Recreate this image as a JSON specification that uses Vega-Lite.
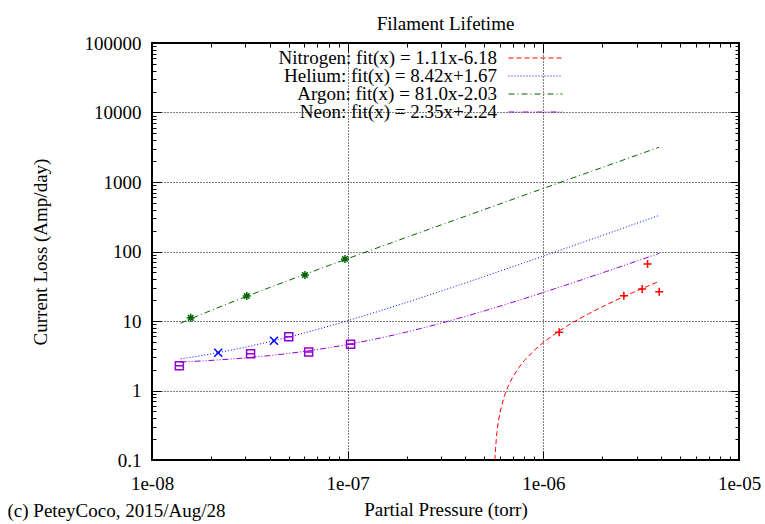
{
  "$schema": "https://vega.github.io/schema/vega-lite/v6.json",
  "width": 587,
  "height": 417,
  "autosize": {"type": "none"},
  "padding": {"left": 152, "top": 43, "right": 26, "bottom": 64},
  "background": "white",
  "title": {"text": "Filament Lifetime", "font": "Liberation Serif", "fontSize": 19, "fontWeight": "normal", "anchor": "middle", "frame": "group", "offset": 0, "color": "black"},
  "config": {
    "font": "Liberation Serif",
    "view": {"stroke": "black", "strokeWidth": 2},
    "axis": {
      "domain": false,
      "tickColor": "black",
      "tickWidth": 1,
      "labelColor": "black",
      "labelFont": "Liberation Serif",
      "labelFontSize": 19,
      "titleFont": "Liberation Serif",
      "titleFontSize": 19,
      "titleFontWeight": "normal",
      "titleColor": "black",
      "labelOverlap": false,
      "labelFlush": false,
      "labelBound": false,
      "gridColor": "black",
      "gridDash": [1, 2],
      "gridWidth": 1
    }
  },
  "datasets": {
    "curves": [
      {"gas": "Nitrogen", "x": 5.658e-7, "y": 0.1},
      {"gas": "Nitrogen", "x": 5.67e-7, "y": 0.1137},
      {"gas": "Nitrogen", "x": 5.7e-7, "y": 0.147},
      {"gas": "Nitrogen", "x": 5.75e-7, "y": 0.2025},
      {"gas": "Nitrogen", "x": 5.8e-7, "y": 0.258},
      {"gas": "Nitrogen", "x": 5.9e-7, "y": 0.369},
      {"gas": "Nitrogen", "x": 6e-7, "y": 0.48},
      {"gas": "Nitrogen", "x": 6.3e-7, "y": 0.813},
      {"gas": "Nitrogen", "x": 6.6e-7, "y": 1.146},
      {"gas": "Nitrogen", "x": 7e-7, "y": 1.59},
      {"gas": "Nitrogen", "x": 7.5e-7, "y": 2.145},
      {"gas": "Nitrogen", "x": 8e-7, "y": 2.7},
      {"gas": "Nitrogen", "x": 9e-7, "y": 3.81},
      {"gas": "Nitrogen", "x": 1e-6, "y": 4.92},
      {"gas": "Nitrogen", "x": 1.2e-6, "y": 7.14},
      {"gas": "Nitrogen", "x": 1.4e-6, "y": 9.36},
      {"gas": "Nitrogen", "x": 1.7e-6, "y": 12.69},
      {"gas": "Nitrogen", "x": 2e-6, "y": 16.02},
      {"gas": "Nitrogen", "x": 2.5e-6, "y": 21.57},
      {"gas": "Nitrogen", "x": 3e-6, "y": 27.12},
      {"gas": "Nitrogen", "x": 3.5e-6, "y": 32.67},
      {"gas": "Nitrogen", "x": 3.9e-6, "y": 37.11},

      {"gas": "Helium", "x": 1.4e-8, "y": 2.849},
      {"gas": "Helium", "x": 1.7e-8, "y": 3.101},
      {"gas": "Helium", "x": 2e-8, "y": 3.354},
      {"gas": "Helium", "x": 2.5e-8, "y": 3.775},
      {"gas": "Helium", "x": 3e-8, "y": 4.196},
      {"gas": "Helium", "x": 4e-8, "y": 5.038},
      {"gas": "Helium", "x": 5e-8, "y": 5.88},
      {"gas": "Helium", "x": 6e-8, "y": 6.722},
      {"gas": "Helium", "x": 8e-8, "y": 8.406},
      {"gas": "Helium", "x": 1e-7, "y": 10.09},
      {"gas": "Helium", "x": 1.3e-7, "y": 12.616},
      {"gas": "Helium", "x": 1.6e-7, "y": 15.142},
      {"gas": "Helium", "x": 2e-7, "y": 18.51},
      {"gas": "Helium", "x": 2.5e-7, "y": 22.72},
      {"gas": "Helium", "x": 3e-7, "y": 26.93},
      {"gas": "Helium", "x": 4e-7, "y": 35.35},
      {"gas": "Helium", "x": 5e-7, "y": 43.77},
      {"gas": "Helium", "x": 6e-7, "y": 52.19},
      {"gas": "Helium", "x": 8e-7, "y": 69.03},
      {"gas": "Helium", "x": 1e-6, "y": 85.87},
      {"gas": "Helium", "x": 1.3e-6, "y": 111.13},
      {"gas": "Helium", "x": 1.6e-6, "y": 136.39},
      {"gas": "Helium", "x": 2e-6, "y": 170.07},
      {"gas": "Helium", "x": 2.5e-6, "y": 212.17},
      {"gas": "Helium", "x": 3e-6, "y": 254.27},
      {"gas": "Helium", "x": 3.5e-6, "y": 296.37},
      {"gas": "Helium", "x": 3.9e-6, "y": 330.05},

      {"gas": "Argon", "x": 1.4e-8, "y": 9.31},
      {"gas": "Argon", "x": 1.7e-8, "y": 11.74},
      {"gas": "Argon", "x": 2e-8, "y": 14.17},
      {"gas": "Argon", "x": 2.5e-8, "y": 18.22},
      {"gas": "Argon", "x": 3e-8, "y": 22.27},
      {"gas": "Argon", "x": 4e-8, "y": 30.37},
      {"gas": "Argon", "x": 5e-8, "y": 38.47},
      {"gas": "Argon", "x": 6e-8, "y": 46.57},
      {"gas": "Argon", "x": 8e-8, "y": 62.77},
      {"gas": "Argon", "x": 1e-7, "y": 78.97},
      {"gas": "Argon", "x": 1.3e-7, "y": 103.27},
      {"gas": "Argon", "x": 1.6e-7, "y": 127.57},
      {"gas": "Argon", "x": 2e-7, "y": 159.97},
      {"gas": "Argon", "x": 2.5e-7, "y": 200.47},
      {"gas": "Argon", "x": 3e-7, "y": 240.97},
      {"gas": "Argon", "x": 4e-7, "y": 321.97},
      {"gas": "Argon", "x": 5e-7, "y": 402.97},
      {"gas": "Argon", "x": 6e-7, "y": 483.97},
      {"gas": "Argon", "x": 8e-7, "y": 645.97},
      {"gas": "Argon", "x": 1e-6, "y": 807.97},
      {"gas": "Argon", "x": 1.3e-6, "y": 1050.97},
      {"gas": "Argon", "x": 1.6e-6, "y": 1293.97},
      {"gas": "Argon", "x": 2e-6, "y": 1617.97},
      {"gas": "Argon", "x": 2.5e-6, "y": 2022.97},
      {"gas": "Argon", "x": 3e-6, "y": 2427.97},
      {"gas": "Argon", "x": 3.5e-6, "y": 2832.97},
      {"gas": "Argon", "x": 3.9e-6, "y": 3156.97},

      {"gas": "Neon", "x": 1.4e-8, "y": 2.569},
      {"gas": "Neon", "x": 1.7e-8, "y": 2.6395},
      {"gas": "Neon", "x": 2e-8, "y": 2.71},
      {"gas": "Neon", "x": 2.5e-8, "y": 2.8275},
      {"gas": "Neon", "x": 3e-8, "y": 2.945},
      {"gas": "Neon", "x": 4e-8, "y": 3.18},
      {"gas": "Neon", "x": 5e-8, "y": 3.415},
      {"gas": "Neon", "x": 6e-8, "y": 3.65},
      {"gas": "Neon", "x": 8e-8, "y": 4.12},
      {"gas": "Neon", "x": 1e-7, "y": 4.59},
      {"gas": "Neon", "x": 1.3e-7, "y": 5.295},
      {"gas": "Neon", "x": 1.6e-7, "y": 6.0},
      {"gas": "Neon", "x": 2e-7, "y": 6.94},
      {"gas": "Neon", "x": 2.5e-7, "y": 8.115},
      {"gas": "Neon", "x": 3e-7, "y": 9.29},
      {"gas": "Neon", "x": 4e-7, "y": 11.64},
      {"gas": "Neon", "x": 5e-7, "y": 13.99},
      {"gas": "Neon", "x": 6e-7, "y": 16.34},
      {"gas": "Neon", "x": 8e-7, "y": 21.04},
      {"gas": "Neon", "x": 1e-6, "y": 25.74},
      {"gas": "Neon", "x": 1.3e-6, "y": 32.79},
      {"gas": "Neon", "x": 1.6e-6, "y": 39.84},
      {"gas": "Neon", "x": 2e-6, "y": 49.24},
      {"gas": "Neon", "x": 2.5e-6, "y": 60.99},
      {"gas": "Neon", "x": 3e-6, "y": 72.74},
      {"gas": "Neon", "x": 3.5e-6, "y": 84.49},
      {"gas": "Neon", "x": 3.9e-6, "y": 93.89}
    ],
    "points": [
      {"name": "Nitrogen data", "x": 1.205e-6, "y": 6.88},
      {"name": "Nitrogen data", "x": 2.58e-6, "y": 23.1},
      {"name": "Nitrogen data", "x": 3.2e-6, "y": 28.9},
      {"name": "Nitrogen data", "x": 3.41e-6, "y": 66.1},
      {"name": "Nitrogen data", "x": 3.91e-6, "y": 26.4},
      {"name": "Helium data", "x": 2.18e-8, "y": 3.5},
      {"name": "Helium data", "x": 4.2e-8, "y": 5.21},
      {"name": "Argon data", "x": 1.577e-8, "y": 11.1},
      {"name": "Argon data", "x": 3.05e-8, "y": 22.9},
      {"name": "Argon data", "x": 6.05e-8, "y": 45.9},
      {"name": "Argon data", "x": 9.69e-8, "y": 78},
      {"name": "Neon data", "x": 1.38e-8, "y": 2.27},
      {"name": "Neon data", "x": 3.19e-8, "y": 3.38},
      {"name": "Neon data", "x": 5.0e-8, "y": 5.94},
      {"name": "Neon data", "x": 6.32e-8, "y": 3.58},
      {"name": "Neon data", "x": 1.035e-7, "y": 4.62}
    ]
  },
  "layer": [
    {
      "data": {"name": "curves"},
      "mark": {"type": "line", "strokeWidth": 1, "clip": true},
      "encoding": {
        "x": {
          "field": "x", "type": "quantitative",
          "scale": {"type": "log", "domain": [1e-8, 1e-5], "nice": false},
          "axis": {
            "orient": "bottom",
            "values": [1e-8,2e-8,3e-8,4e-8,5e-8,6e-8,7e-8,8e-8,9e-8,1e-7,2e-7,3e-7,4e-7,5e-7,6e-7,7e-7,8e-7,9e-7,1e-6,2e-6,3e-6,4e-6,5e-6,6e-6,7e-6,8e-6,9e-6,1e-5],
            "title": "Partial Pressure (torr)",
            "titleY": 49,
            "titleBaseline": "middle",
            "labelExpr": "abs(log(datum.value)/LN10 - round(log(datum.value)/LN10)) < 0.001 ? '1e-0' + (-round(log(datum.value)/LN10)) : ''",
            "labelPadding": 23,
            "tickSize": {"condition": {"test": "abs(log(datum.value)/LN10 - round(log(datum.value)/LN10)) < 0.001", "value": -9}, "value": -4},
            "grid": true,
            "gridOpacity": {"condition": {"test": "abs(log(datum.value)/LN10 - round(log(datum.value)/LN10)) < 0.001", "value": 1}, "value": 0}
          }
        },
        "y": {
          "field": "y", "type": "quantitative",
          "scale": {"type": "log", "domain": [0.1, 100000], "nice": false},
          "axis": {
            "orient": "left",
            "values": [0.1,0.2,0.3,0.4,0.5,0.6,0.7,0.8,0.9,1,2,3,4,5,6,7,8,9,10,20,30,40,50,60,70,80,90,100,200,300,400,500,600,700,800,900,1000,2000,3000,4000,5000,6000,7000,8000,9000,10000,20000,30000,40000,50000,60000,70000,80000,90000,100000],
            "title": "Current Loss (Amp/day)",
            "titleX": -112,
            "titleY": 208.5,
            "titleAngle": -90,
            "titleAlign": "center",
            "titleBaseline": "middle",
            "labelExpr": "abs(log(datum.value)/LN10 - round(log(datum.value)/LN10)) < 0.001 ? format(datum.value, '~g') : ''",
            "labelPadding": 20,
            "tickSize": {"condition": {"test": "abs(log(datum.value)/LN10 - round(log(datum.value)/LN10)) < 0.001", "value": -9}, "value": -4},
            "grid": true,
            "gridOpacity": {"condition": {"test": "abs(log(datum.value)/LN10 - round(log(datum.value)/LN10)) < 0.001", "value": 1}, "value": 0}
          }
        },
        "color": {
          "field": "gas", "type": "nominal",
          "scale": {"domain": ["Nitrogen", "Helium", "Argon", "Neon"], "range": ["#ff0000", "#0000ff", "#006400", "#9400d3"]},
          "legend": {
            "title": null, "orient": "none", "legendX": 356, "legendY": 7,
            "symbolType": "stroke", "symbolSize": 2916, "symbolStrokeWidth": 1,
            "labelFont": "Liberation Serif", "labelFontSize": 19, "labelColor": "black", "labelLimit": 0,
            "labelAlign": "right", "labelOffset": -66, "clipHeight": 16, "rowPadding": -4, "padding": 0,
            "encode": {"entries": {"update": {"width": {"value": 70}}}},
            "labelExpr": "datum.label == 'Nitrogen' ? 'Nitrogen: fit(x) = 1.11x-6.18' : datum.label == 'Helium' ? 'Helium: fit(x) = 8.42x+1.67' : datum.label == 'Argon' ? 'Argon: fit(x) = 81.0x-2.03' : 'Neon: fit(x) = 2.35x+2.24'"
          }
        },
        "strokeDash": {
          "field": "gas", "type": "nominal",
          "scale": {"domain": ["Nitrogen", "Helium", "Argon", "Neon"], "range": [[5, 3], [1, 2], [6, 3, 1, 3], [6, 2, 1, 2, 1, 2]]},
          "legend": {
            "title": null, "orient": "none", "legendX": 356, "legendY": 7,
            "symbolType": "stroke", "symbolSize": 2916, "symbolStrokeWidth": 1,
            "labelFont": "Liberation Serif", "labelFontSize": 19, "labelColor": "black", "labelLimit": 0,
            "labelAlign": "right", "labelOffset": -66, "clipHeight": 16, "rowPadding": -4, "padding": 0,
            "encode": {"entries": {"update": {"width": {"value": 70}}}},
            "labelExpr": "datum.label == 'Nitrogen' ? 'Nitrogen: fit(x) = 1.11x-6.18' : datum.label == 'Helium' ? 'Helium: fit(x) = 8.42x+1.67' : datum.label == 'Argon' ? 'Argon: fit(x) = 81.0x-2.03' : 'Neon: fit(x) = 2.35x+2.24'"
          }
        }
      }
    },
    {
      "data": {"name": "points"},
      "mark": {"type": "point", "filled": false, "strokeWidth": 1.5, "opacity": 1},
      "encoding": {
        "x": {
          "field": "x", "type": "quantitative",
          "scale": {"type": "log", "domain": [1e-8, 1e-5], "nice": false},
          "axis": {
            "orient": "top",
            "values": [1e-8,2e-8,3e-8,4e-8,5e-8,6e-8,7e-8,8e-8,9e-8,1e-7,2e-7,3e-7,4e-7,5e-7,6e-7,7e-7,8e-7,9e-7,1e-6,2e-6,3e-6,4e-6,5e-6,6e-6,7e-6,8e-6,9e-6,1e-5],
            "labels": false,
            "grid": false,
            "title": "(c) PeteyCoco, 2015/Aug/28",
            "titleX": -145,
            "titleY": 467,
            "titleAlign": "left",
            "titleBaseline": "middle",
            "titleAngle": 0,
            "tickSize": {"condition": {"test": "abs(log(datum.value)/LN10 - round(log(datum.value)/LN10)) < 0.001", "value": -9}, "value": -4}
          }
        },
        "y": {
          "field": "y", "type": "quantitative",
          "scale": {"type": "log", "domain": [0.1, 100000], "nice": false},
          "axis": {
            "orient": "right",
            "values": [0.1,0.2,0.3,0.4,0.5,0.6,0.7,0.8,0.9,1,2,3,4,5,6,7,8,9,10,20,30,40,50,60,70,80,90,100,200,300,400,500,600,700,800,900,1000,2000,3000,4000,5000,6000,7000,8000,9000,10000,20000,30000,40000,50000,60000,70000,80000,90000,100000],
            "labels": false,
            "grid": false,
            "title": null,
            "tickSize": {"condition": {"test": "abs(log(datum.value)/LN10 - round(log(datum.value)/LN10)) < 0.001", "value": -9}, "value": -4}
          }
        },
        "stroke": {
          "field": "name", "type": "nominal",
          "scale": {"domain": ["Nitrogen data", "Helium data", "Argon data", "Neon data"], "range": ["#ff0000", "#0000ff", "#006400", "#9400d3"]},
          "legend": null
        },
        "shape": {
          "field": "name", "type": "nominal",
          "scale": {"domain": ["Nitrogen data", "Helium data", "Argon data", "Neon data"], "range": [
            "M-1,0L1,0M0,-1L0,1",
            "M-1,-1L1,1M-1,1L1,-1",
            "M-1,0L1,0M0,-1L0,1M-0.7,-0.7L0.7,0.7M-0.7,0.7L0.7,-0.7",
            "M-1,-1L1,-1L1,1L-1,1ZM-1,0L1,0"
          ]},
          "legend": null
        },
        "size": {"value": 64}
      }
    }
  ]
}
